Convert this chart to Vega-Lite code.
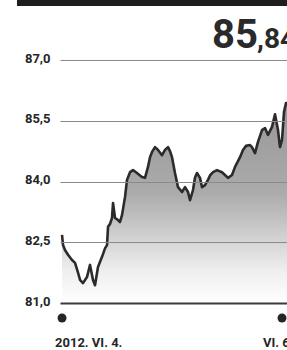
{
  "$schema": "https://vega.github.io/schema/vega-lite/v6.json",
  "width": 227,
  "height": 243,
  "autosize": {"type": "none"},
  "padding": {"left": 60, "top": 60, "right": 0, "bottom": 47},
  "background": "#ffffff",
  "config": {"view": {"stroke": null}, "font": "Roboto"},
  "datasets": {
    "series": [
      {"t": 0, "v": 82.68}, {"t": 0.22, "v": 82.43}, {"t": 0.65, "v": 82.31}, {"t": 1.31, "v": 82.19},
      {"t": 2.18, "v": 82.06}, {"t": 2.84, "v": 81.99}, {"t": 3.49, "v": 81.75}, {"t": 3.93, "v": 81.57},
      {"t": 4.58, "v": 81.49}, {"t": 5.45, "v": 81.64}, {"t": 6.11, "v": 81.94}, {"t": 6.76, "v": 81.57},
      {"t": 7.2, "v": 81.44}, {"t": 7.85, "v": 81.89}, {"t": 8.73, "v": 82.14}, {"t": 9.38, "v": 82.35},
      {"t": 9.82, "v": 82.43}, {"t": 10.04, "v": 82.88}, {"t": 10.47, "v": 82.95}, {"t": 10.91, "v": 83.1},
      {"t": 11.13, "v": 83.47}, {"t": 11.56, "v": 83.1}, {"t": 12.22, "v": 83.05}, {"t": 12.65, "v": 83.0},
      {"t": 13.09, "v": 83.17}, {"t": 13.75, "v": 83.62}, {"t": 14.18, "v": 84.04}, {"t": 14.84, "v": 84.23},
      {"t": 15.49, "v": 84.28}, {"t": 16.36, "v": 84.21}, {"t": 17.02, "v": 84.15}, {"t": 17.45, "v": 84.11},
      {"t": 18.11, "v": 84.09}, {"t": 18.76, "v": 84.36}, {"t": 19.2, "v": 84.6}, {"t": 19.64, "v": 84.73},
      {"t": 20.29, "v": 84.85}, {"t": 20.95, "v": 84.78}, {"t": 21.82, "v": 84.65}, {"t": 22.47, "v": 84.78},
      {"t": 23.13, "v": 84.85}, {"t": 23.56, "v": 84.75}, {"t": 24.0, "v": 84.6}, {"t": 24.65, "v": 84.21},
      {"t": 25.31, "v": 83.86}, {"t": 26.18, "v": 83.74}, {"t": 26.84, "v": 83.86}, {"t": 27.49, "v": 83.74},
      {"t": 27.93, "v": 83.54}, {"t": 28.58, "v": 83.79}, {"t": 29.02, "v": 84.1}, {"t": 29.45, "v": 84.21},
      {"t": 30.11, "v": 84.09}, {"t": 30.55, "v": 83.86}, {"t": 31.2, "v": 83.91}, {"t": 31.85, "v": 84.04},
      {"t": 32.29, "v": 84.15}, {"t": 32.95, "v": 84.23}, {"t": 33.82, "v": 84.28}, {"t": 34.91, "v": 84.23},
      {"t": 35.56, "v": 84.16}, {"t": 36.22, "v": 84.09}, {"t": 37.09, "v": 84.16}, {"t": 37.75, "v": 84.36},
      {"t": 38.84, "v": 84.6}, {"t": 39.49, "v": 84.78}, {"t": 40.15, "v": 84.88}, {"t": 41.02, "v": 84.9},
      {"t": 41.45, "v": 84.85}, {"t": 42.11, "v": 84.7}, {"t": 42.76, "v": 84.98}, {"t": 43.64, "v": 85.27},
      {"t": 44.29, "v": 85.32}, {"t": 44.95, "v": 85.15}, {"t": 45.82, "v": 85.35}, {"t": 46.47, "v": 85.66},
      {"t": 47.13, "v": 85.27}, {"t": 47.56, "v": 84.85}, {"t": 48.0, "v": 85.02}, {"t": 48.44, "v": 85.72},
      {"t": 48.87, "v": 85.94}, {"t": 49.31, "v": 85.94}
    ],
    "dates": [
      {"t": 0, "v": 80.63, "tl": -1.53, "lv": 79.91, "label": "2012. VI. 4."},
      {"t": 48, "v": 80.63, "tl": 43.85, "lv": 79.91, "label": "VI. 6."}
    ],
    "headline": [
      {"t": 32.73, "v": 87.3, "txt": "85", "size": 40},
      {"t": 42.55, "v": 87.3, "txt": ",84", "size": 28}
    ],
    "bar": [
      {"t": -9.82, "t2": 70, "v": 88.41}
    ]
  },
  "layer": [
    {
      "data": {"name": "series"},
      "mark": {
        "type": "area",
        "clip": true,
        "interpolate": "linear",
        "color": {
          "x1": 0, "y1": 0, "x2": 0, "y2": 1,
          "gradient": "linear",
          "stops": [
            {"offset": 0, "color": "#979797"},
            {"offset": 0.45, "color": "#ababab"},
            {"offset": 0.85, "color": "#f0f0f0"},
            {"offset": 1, "color": "#ffffff"}
          ]
        }
      },
      "encoding": {
        "x": {"field": "t", "type": "quantitative", "scale": {"domain": [-0.44, 49.09], "nice": false, "zero": false}, "axis": null},
        "y": {
          "field": "v", "type": "quantitative",
          "scale": {"domain": [81, 87], "nice": false, "zero": false},
          "axis": {
            "values": [81, 82.5, 84, 85.5, 87],
            "labelExpr": "replace(format(datum.value, '.1f'), '.', ',')",
            "title": null,
            "ticks": false,
            "domain": false,
            "labelPadding": 10,
            "labelOffset": -2,
            "labelFont": "Roboto",
            "labelFontWeight": "bold",
            "labelFontSize": 13,
            "labelColor": "#262626",
            "zindex": 1,
            "gridColor": {"condition": {"test": "datum.value === 81", "value": "#3a3a3a"}, "value": "#8a8a8a"},
            "gridWidth": {"condition": {"test": "datum.value === 81", "value": 2}, "value": 1.2},
            "gridOpacity": 1
          }
        },
        "y2": {"datum": 81}
      }
    },
    {
      "data": {"name": "series"},
      "mark": {"type": "line", "clip": true, "color": "#2b2b2b", "strokeWidth": 2.6, "strokeJoin": "round"},
      "encoding": {
        "x": {"field": "t", "type": "quantitative"},
        "y": {"field": "v", "type": "quantitative"}
      }
    },
    {
      "data": {"name": "dates"},
      "mark": {"type": "circle", "size": 80, "color": "#262626", "opacity": 1},
      "encoding": {
        "x": {"field": "t", "type": "quantitative"},
        "y": {"field": "v", "type": "quantitative"}
      }
    },
    {
      "data": {"name": "dates"},
      "mark": {"type": "text", "align": "left", "baseline": "alphabetic", "font": "Roboto", "fontWeight": "bold", "fontSize": 13, "color": "#262626"},
      "encoding": {
        "x": {"field": "tl", "type": "quantitative"},
        "y": {"field": "lv", "type": "quantitative"},
        "text": {"field": "label"}
      }
    },
    {
      "data": {"name": "headline"},
      "mark": {"type": "text", "align": "left", "baseline": "alphabetic", "font": "Roboto", "fontWeight": "bold", "color": "#2a2a2a"},
      "encoding": {
        "x": {"field": "t", "type": "quantitative"},
        "y": {"field": "v", "type": "quantitative"},
        "text": {"field": "txt"},
        "size": {"field": "size", "type": "quantitative", "scale": null}
      }
    },
    {
      "data": {"name": "bar"},
      "mark": {"type": "rule", "color": "#1e1e1e", "strokeWidth": 6},
      "encoding": {
        "x": {"field": "t", "type": "quantitative"},
        "x2": {"field": "t2"},
        "y": {"field": "v", "type": "quantitative"}
      }
    }
  ]
}
